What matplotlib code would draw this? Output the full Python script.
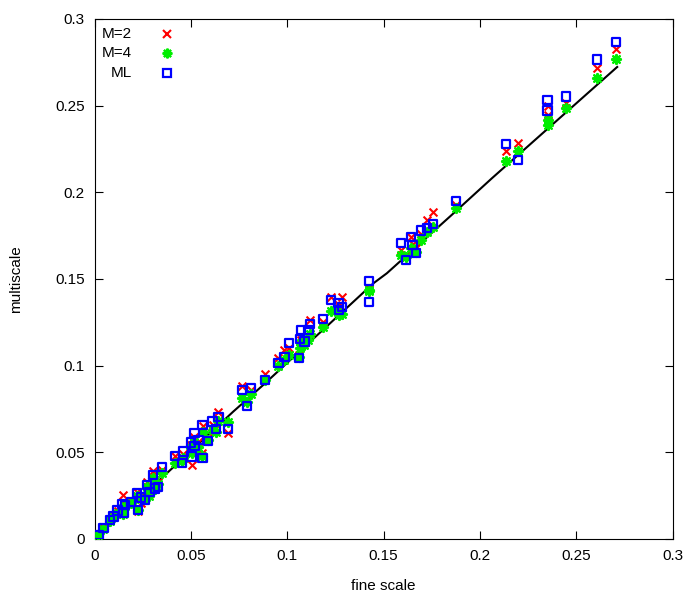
import numpy as np
import matplotlib
matplotlib.use("Agg")
import matplotlib.pyplot as plt

plt.rcParams['font.family'] = ['Liberation Sans', 'DejaVu Sans']

# fine scale value of each case
fine = [0.2705, 0.2607, 0.2447, 0.2351, 0.2351, 0.2197, 0.2134, 0.1876, 0.1755, 0.1724,
        0.1695, 0.1643, 0.1650, 0.1589, 0.1615, 0.1667, 0.1425, 0.1425, 0.1283, 0.1227,
        0.1266, 0.1270, 0.1184, 0.1119, 0.1072, 0.1110, 0.1067, 0.1089, 0.1010, 0.0985,
        0.1061, 0.0954, 0.0885, 0.0812, 0.0764, 0.0790, 0.0643, 0.0613, 0.0691, 0.0561,
        0.0631, 0.0518, 0.0588, 0.0539, 0.0501, 0.0518, 0.0560, 0.0461, 0.0418, 0.0453,
        0.0504, 0.0349, 0.0305, 0.0271, 0.0262, 0.0314, 0.0219, 0.0146, 0.0158, 0.0150,
        0.0098, 0.0080, 0.0046, 0.0020, 0.0227, 0.0285, 0.0190, 0.0120, 0.0240, 0.0330]

m2 = [0.2826, 0.2719, 0.2516, 0.2498, 0.2446, 0.2287, 0.2237, 0.1925, 0.1885, 0.1841,
      0.1760, 0.1745, 0.1700, 0.1667, 0.1630, 0.1680, 0.1450, 0.1440, 0.1398, 0.1398,
      0.1350, 0.1330, 0.1250, 0.1264, 0.1150, 0.1170, 0.1120, 0.1130, 0.1100, 0.1090,
      0.1060, 0.1043, 0.0952, 0.0860, 0.0883, 0.0800, 0.0735, 0.0660, 0.0610, 0.0650,
      0.0640, 0.0590, 0.0580, 0.0560, 0.0540, 0.0520, 0.0494, 0.0490, 0.0479, 0.0460,
      0.0427, 0.0400, 0.0390, 0.0330, 0.0240, 0.0300, 0.0270, 0.0254, 0.0200, 0.0150,
      0.0135, 0.0110, 0.0070, 0.0030, 0.0160, 0.0260, 0.0220, 0.0160, 0.0210, 0.0330]

m4 = [0.2770, 0.2662, 0.2488, 0.2418, 0.2388, 0.2240, 0.2183, 0.1908, 0.1800, 0.1770,
      0.1725, 0.1680, 0.1665, 0.1639, 0.1625, 0.1658, 0.1437, 0.1430, 0.1300, 0.1316,
      0.1310, 0.1290, 0.1225, 0.1180, 0.1130, 0.1150, 0.1104, 0.1120, 0.1060, 0.1030,
      0.1050, 0.1000, 0.0920, 0.0839, 0.0812, 0.0792, 0.0680, 0.0630, 0.0677, 0.0619,
      0.0620, 0.0560, 0.0570, 0.0530, 0.0523, 0.0510, 0.0480, 0.0470, 0.0440, 0.0450,
      0.0494, 0.0380, 0.0350, 0.0300, 0.0230, 0.0290, 0.0250, 0.0180, 0.0190, 0.0145,
      0.0125, 0.0105, 0.0060, 0.0025, 0.0170, 0.0250, 0.0210, 0.0150, 0.0230, 0.0320]

ml = [0.2868, 0.2766, 0.2552, 0.2533, 0.2471, 0.2188, 0.2279, 0.1950, 0.1816, 0.1793,
      0.1779, 0.1744, 0.1697, 0.1706, 0.1610, 0.1648, 0.1490, 0.1369, 0.1340, 0.1379,
      0.1360, 0.1321, 0.1268, 0.1239, 0.1206, 0.1206, 0.1152, 0.1139, 0.1129, 0.1048,
      0.1043, 0.1014, 0.0917, 0.0870, 0.0860, 0.0767, 0.0702, 0.0677, 0.0633, 0.0658,
      0.0633, 0.0613, 0.0567, 0.0571, 0.0556, 0.0537, 0.0466, 0.0504, 0.0479, 0.0437,
      0.0475, 0.0417, 0.0369, 0.0312, 0.0225, 0.0292, 0.0264, 0.0200, 0.0196, 0.0148,
      0.0129, 0.0110, 0.0062, 0.0023, 0.0167, 0.0270, 0.0215, 0.0165, 0.0240, 0.0300]

# reference curve
ref_x = [0.0, 0.0375, 0.072, 0.0876, 0.1447, 0.1517, 0.1854, 0.2062, 0.2712]
ref_y = [0.0, 0.0379, 0.0735, 0.0889, 0.1475, 0.1533, 0.1870, 0.2081, 0.2723]

fig = plt.figure(figsize=(7, 6), dpi=100)
ax = fig.add_axes([0.135, 0.1017, 0.826, 0.8667])

ax.plot(ref_x, ref_y, color='black', lw=1.5, zorder=1)
ax.scatter(fine, m2, marker='x', s=32, color='#ff0000', linewidths=1.5, zorder=2)
ax.scatter(fine, m4, marker=(8, 2, 0), s=42, color='#00ee00', linewidths=1.6, zorder=3)
ax.scatter(fine, ml, marker='s', s=36, facecolors='none', edgecolors='#0000ff',
           linewidths=1.6, zorder=4)

ax.set_xlim(0, 0.3)
ax.set_ylim(0, 0.3)
ticks = [0, 0.05, 0.1, 0.15, 0.2, 0.25, 0.3]
tick_labels = ['0', '0.05', '0.1', '0.15', '0.2', '0.25', '0.3']
ax.set_xticks(ticks)
ax.set_xticklabels(tick_labels)
ax.set_yticks(ticks)
ax.set_yticklabels(tick_labels)
ax.tick_params(direction='in', length=6, top=True, right=True, labelsize=11, pad=7)
ax.set_xlabel('fine scale', fontsize=11, labelpad=12)
ax.set_ylabel('multiscale', fontsize=11, labelpad=23)

# gnuplot-style key, text right aligned
key = [('M=2', dict(marker='x', ms=6, mew=1.5, color='#ff0000', mfc='none')),
       ('M=4', dict(marker=(8, 2, 0), ms=7, mew=1.6, color='#00ee00')),
       ('ML', dict(marker='s', ms=6, mew=1.6, color='#0000ff', mfc='none'))]
for i, (label, style) in enumerate(key):
    yy = 0.971 - i * 0.037
    ax.text(0.064, yy, label, ha='right', va='center', fontsize=11, transform=ax.transAxes)
    ax.plot([0.125], [yy], linestyle='none', transform=ax.transAxes, **style)

fig.savefig('out.png', dpi=100)
